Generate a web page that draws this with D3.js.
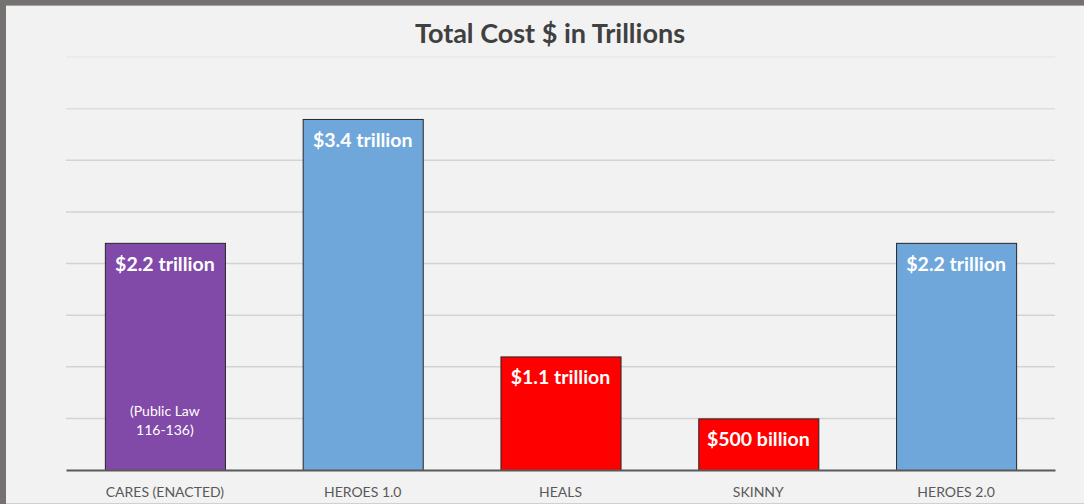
<!DOCTYPE html>
<html>
<head>
<meta charset="utf-8">
<script src="https://cdn.jsdelivr.net/npm/d3@7"></script>
<style>
  html, body { margin: 0; padding: 0; background: #f2f2f2; }
  svg { display: block; }
  .cat-label { font-family: Lato, 'Open Sans', sans-serif; font-size: 14px; fill: #595959; }
  .value-label { font-family: Lato, 'Open Sans', sans-serif; font-size: 19.5px; font-weight: bold; fill: #ffffff; }
  .note-label { font-family: Lato, 'Open Sans', sans-serif; font-size: 14px; fill: #ffffff; }
  .title { font-family: Lato, 'Open Sans', sans-serif; font-size: 27px; font-weight: bold; fill: #404040; }
</style>
</head>
<body>
<div class="chart"></div>
<script>
// data
var categories = ['CARES (ENACTED)', 'HEROES 1.0', 'HEALS', 'SKINNY', 'HEROES 2.0'];
var values = [2.2, 3.4, 1.1, 0.5, 2.2];           // trillions
var valueLabels = ['$2.2 trillion', '$3.4 trillion', '$1.1 trillion', '$500 billion', '$2.2 trillion'];
var barColors = ['#8149a8', '#6fa7db', '#ff0000', '#ff0000', '#6fa7db'];
var gridTicks = [0.5, 1, 1.5, 2, 2.5, 3, 3.5, 4];
var noteLines = ['(Public Law', '116-136)'];
var titleText = 'Total Cost $ in Trillions';

var width = 1084;
var height = 504;
var margin = { top: 57, right: 29, bottom: 34, left: 66 };

var svg = d3.select('.chart').append('svg')
  .attr('width', width)
  .attr('height', height);

// background + frame
svg.append('rect').attr('width', width).attr('height', height).attr('fill', '#f2f2f2');
svg.append('rect').attr('x', 0).attr('y', 0).attr('width', width).attr('height', 5).attr('fill', '#767171');
svg.append('rect').attr('x', 0).attr('y', 0).attr('width', 6).attr('height', height).attr('fill', '#767171');
svg.append('line').attr('x1', 6).attr('x2', width).attr('y1', 5.5).attr('y2', 5.5).attr('stroke', '#a5a2a2');
svg.append('line').attr('x1', 6).attr('x2', width).attr('y1', 503.5).attr('y2', 503.5).attr('stroke', '#d0d0d0');

var x = d3.scaleBand()
  .domain(categories)
  .range([margin.left, width - margin.right])
  .paddingInner(0.393)
  .paddingOuter(0.1965);

var y = d3.scaleLinear()
  .domain([0, 4])
  .range([height - margin.bottom, margin.top]);

// gridlines
var gridColor = function (d) {
  if (d === 4) return '#e9e9e9';
  if (d === 3.5) return '#dedede';
  return '#d3d3d3';
};
svg.append('g').selectAll('line')
  .data(gridTicks)
  .enter().append('line')
  .attr('x1', margin.left)
  .attr('x2', width - margin.right)
  .attr('y1', function (d) { return y(d); })
  .attr('y2', function (d) { return y(d); })
  .attr('stroke', gridColor)
  .attr('stroke-width', 1.5);

// bars
svg.append('g').selectAll('rect')
  .data(values)
  .enter().append('rect')
  .attr('x', function (d, i) { return x(categories[i]) + 0.5; })
  .attr('y', function (d) { return y(d) + 0.5; })
  .attr('width', x.bandwidth())
  .attr('height', function (d) { return y(0) - y(d); })
  .attr('fill', function (d, i) { return barColors[i]; })
  .attr('stroke', '#262626')
  .attr('stroke-width', 1);

// baseline axis
var xAxis = svg.append('g')
  .attr('transform', 'translate(0,' + y(0) + ')')
  .call(d3.axisBottom(x).tickSize(0).tickPadding(17));
xAxis.select('.domain').attr('stroke', '#595959').attr('stroke-width', 2.2);
xAxis.selectAll('text').attr('class', 'cat-label').attr('fill', null).attr('font-family', null).attr('font-size', null);

// value labels
svg.append('g').selectAll('text')
  .data(values)
  .enter().append('text')
  .attr('class', 'value-label')
  .attr('text-anchor', 'middle')
  .attr('x', function (d, i) { return x(categories[i]) + x.bandwidth() / 2; })
  .attr('y', function (d) { return y(d) + 28; })
  .text(function (d, i) { return valueLabels[i]; });

// note inside first bar
svg.append('g').selectAll('text')
  .data(noteLines)
  .enter().append('text')
  .attr('class', 'note-label')
  .attr('text-anchor', 'middle')
  .attr('x', x(categories[0]) + x.bandwidth() / 2)
  .attr('y', function (d, i) { return 416 + i * 19; })
  .text(function (d) { return d; });

// title
svg.append('text')
  .attr('class', 'title')
  .attr('text-anchor', 'middle')
  .attr('x', 550)
  .attr('y', 43)
  .text(titleText);
</script>
</body>
</html>
